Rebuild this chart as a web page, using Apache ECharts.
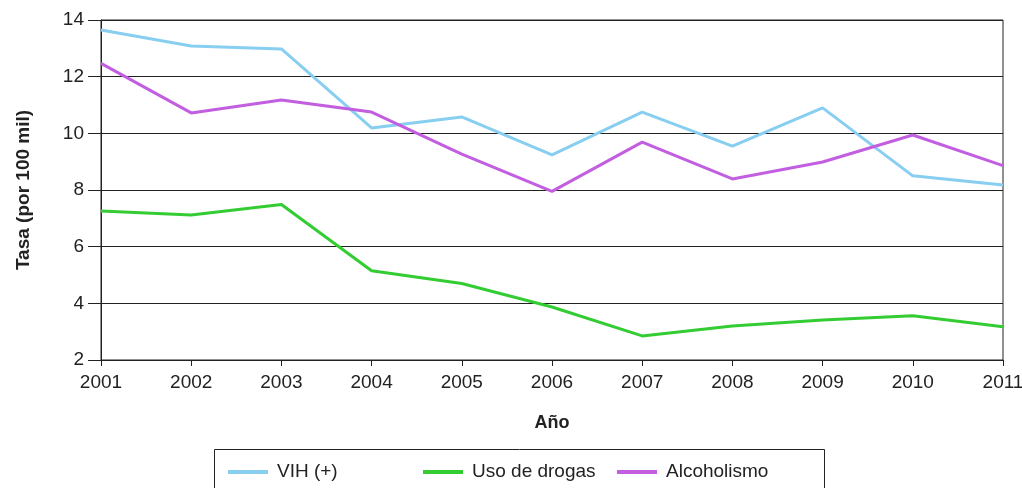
<!DOCTYPE html>
<html>
<head>
<meta charset="utf-8">
<style>
  html, body { margin: 0; padding: 0; background: #ffffff; }
  #chart { width: 1022px; height: 488px; }
</style>
<script src="https://cdn.jsdelivr.net/npm/echarts@6/dist/echarts.min.js"></script>
</head>
<body>
<div id="chart"></div>
<script>
// Years on the horizontal axis
const years = ['2001', '2002', '2003', '2004', '2005', '2006', '2007', '2008', '2009', '2010', '2011'];

// Rates per 100 thousand
const vih = [13.65, 13.08, 12.98, 10.19, 10.58, 9.24, 10.75, 9.55, 10.9, 8.5, 8.18];
const drogas = [7.26, 7.12, 7.49, 5.15, 4.7, 3.87, 2.85, 3.2, 3.41, 3.56, 3.17];
const alcohol = [12.47, 10.72, 11.18, 10.75, 9.27, 7.95, 9.69, 8.39, 8.99, 9.94, 8.86];

const seriesNames = ['VIH (+)', 'Uso de drogas', 'Alcoholismo'];
const seriesColors = ['#87cef0', '#33cc33', '#c25ee0'];

// Left edge of each legend entry inside the framed legend box
const legendLefts = [228, 423, 617];

const font = 'Liberation Sans, Arial, sans-serif';
const chart = echarts.init(document.getElementById('chart'), null, { renderer: 'canvas' });

function lineSeries(name, data, color) {
  return {
    name: name,
    type: 'line',
    data: data,
    showSymbol: false,
    symbol: 'none',
    lineStyle: { color: color, width: 3 },
    itemStyle: { color: color },
    animation: false
  };
}

const legends = seriesNames.map(function (name, i) {
  return {
    left: legendLefts[i], top: 462,
    padding: 0,
    icon: 'rect',
    itemWidth: 40, itemHeight: 4,
    textStyle: {
      fontFamily: font, fontSize: 19, color: '#222', lineHeight: 20,
      padding: [0, 0, 0, 4]
    },
    data: [name]
  };
});

chart.setOption({
  animation: false,
  backgroundColor: '#ffffff',
  grid: {
    left: 101, right: 19, top: 20, bottom: 128,
    outerBoundsMode: 'none',
    containLabel: false,
    show: true, borderColor: '#222', borderWidth: 1, backgroundColor: 'transparent'
  },
  graphic: [{
    type: 'rect',
    shape: { x: 214.5, y: 449.5, width: 610, height: 60 },
    style: { fill: 'none', stroke: '#222', lineWidth: 1 },
    silent: true
  }],
  legend: legends,
  xAxis: {
    type: 'category',
    data: years,
    boundaryGap: false,
    name: 'Año',
    nameLocation: 'middle',
    nameGap: 54,
    nameTextStyle: { fontFamily: font, fontSize: 18, fontWeight: 'bold', color: '#222' },
    axisLine: { show: true, lineStyle: { color: '#222', width: 1 } },
    axisTick: { show: true, alignWithLabel: true, length: 6, lineStyle: { color: '#222' } },
    axisLabel: { fontFamily: font, fontSize: 19, color: '#222', margin: 13 },
    splitLine: { show: false }
  },
  yAxis: {
    type: 'value',
    min: 2, max: 14, interval: 2,
    name: 'Tasa (por 100 mil)',
    nameLocation: 'middle',
    nameGap: 68,
    nameTextStyle: { fontFamily: font, fontSize: 19, fontWeight: 'bold', color: '#222' },
    axisLine: { show: true, lineStyle: { color: '#222', width: 1 } },
    axisTick: { show: true, length: 13, lineStyle: { color: '#222' } },
    axisLabel: { fontFamily: font, fontSize: 19, color: '#222', margin: 17 },
    splitLine: { show: true, lineStyle: { color: '#222', width: 1 } }
  },
  series: [
    lineSeries(seriesNames[0], vih, seriesColors[0]),
    lineSeries(seriesNames[1], drogas, seriesColors[1]),
    lineSeries(seriesNames[2], alcohol, seriesColors[2])
  ]
});
</script>
</body>
</html>
